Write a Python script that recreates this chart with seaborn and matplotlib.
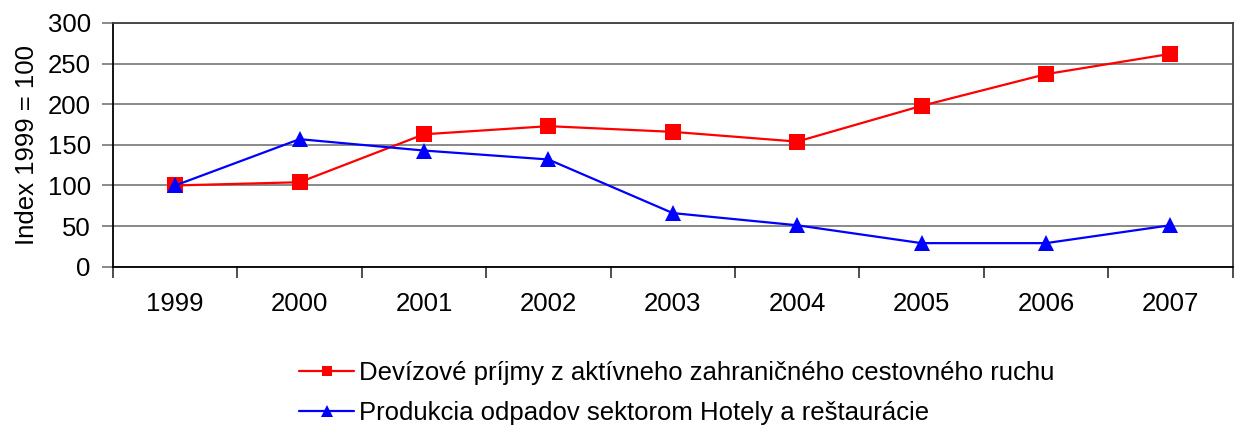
import matplotlib
matplotlib.use("Agg")
import matplotlib.pyplot as plt
from matplotlib.lines import Line2D
from matplotlib.ticker import FixedLocator, MultipleLocator
import numpy as np
import pandas as pd
import seaborn as sns

years = ["1999", "2000", "2001", "2002", "2003", "2004", "2005", "2006", "2007"]
income = [100, 104, 163, 173, 166, 154, 198, 237, 262]
waste = [100, 157, 143, 132, 66, 51, 29, 29, 51]
label_income = "Devízové príjmy z aktívneho zahraničného cestovného ruchu"
label_waste = "Produkcia odpadov sektorom Hotely a reštaurácie"

sns.set_theme(style="white")
plt.rcParams["font.family"] = ["Liberation Sans", "DejaVu Sans"]
plt.rcParams["text.color"] = "black"
plt.rcParams["axes.labelcolor"] = "black"

FS = 18.5

df = pd.DataFrame({
    "rok": years * 2,
    "index": income + waste,
    "rad": [label_income] * len(years) + [label_waste] * len(years),
})

fig = plt.figure(figsize=(12.36, 4.28), dpi=100)
ax = fig.add_axes([113 / 1236, 1 - 266.7 / 428, (1232.5 - 113) / 1236, (266.7 - 23) / 428])

palette = {label_income: "#FF0000", label_waste: "#0000FF"}
markers = {label_income: "s", label_waste: "^"}
sns.lineplot(data=df, x="rok", y="index", hue="rad", style="rad",
             palette=palette, markers=markers, dashes=False,
             markersize=11, linewidth=1.6, markeredgewidth=0,
             legend=False, ax=ax, sort=False)

ax.set_xlim(-0.5, len(years) - 0.5)
ax.set_ylim(0, 300)
ax.yaxis.set_major_locator(MultipleLocator(50))
ax.grid(axis="y", color="#808080", linewidth=1.3)
ax.grid(axis="x", visible=False)
ax.set_axisbelow(True)

ax.set_xticks(range(len(years)))
ax.set_xticklabels(years)
ax.xaxis.set_minor_locator(FixedLocator(np.arange(-0.5, len(years), 1.0)))
ax.tick_params(axis="x", which="major", length=0, pad=18, labelsize=FS, labelcolor="black")
ax.tick_params(axis="x", which="minor", length=8, width=1.3, color="#404040", bottom=True)
ax.tick_params(axis="y", which="major", length=8, width=1.3, color="#808080",
               labelsize=FS, labelcolor="black", left=True, pad=8)

for side in ["left", "bottom"]:
    ax.spines[side].set_color("black")
    ax.spines[side].set_linewidth(1.3)
for side in ["top", "right"]:
    ax.spines[side].set_color("#404040")
    ax.spines[side].set_linewidth(1.3)

ax.set_xlabel("")
ax.set_ylabel("Index 1999 = 100", fontsize=FS, labelpad=6, color="black")

handles = [
    Line2D([], [], color="#FF0000", marker="s", markersize=6.5, linewidth=1.6, markeredgewidth=0),
    Line2D([], [], color="#0000FF", marker="^", markersize=8, linewidth=1.6, markeredgewidth=0),
]
leg = fig.legend(handles, [label_income, label_waste], loc="center left",
                 bbox_to_anchor=(299 / 1236, 1 - 393 / 428), frameon=False,
                 fontsize=FS, handlelength=2.15, handletextpad=0.2, labelspacing=0.66,
                 borderpad=0, borderaxespad=0)
for t in leg.get_texts():
    t.set_color("black")

fig.savefig("out.png", dpi=100)
